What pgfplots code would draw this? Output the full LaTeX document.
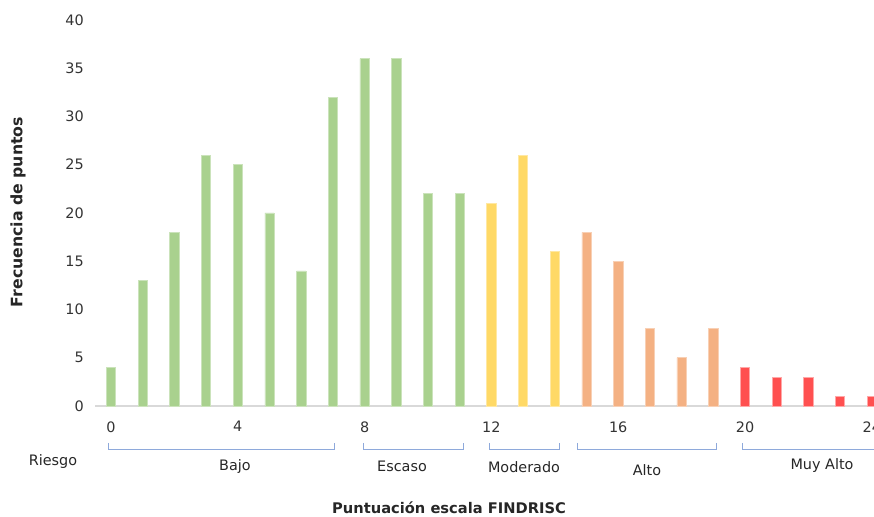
\documentclass[border=0pt]{standalone}
\usepackage{pgfplots}
\pgfplotsset{compat=1.18}
\usepackage{pgfplotstable}
\usepackage{fontspec}
\setmainfont{DejaVu Sans}

\definecolor{bajo}{HTML}{A9D18E}
\definecolor{moder}{HTML}{FFD966}
\definecolor{alto}{HTML}{F4B183}
\definecolor{muyalto}{HTML}{FF5050}
\definecolor{brace}{HTML}{8EA9DB}

\pgfplotstableread{
x y
0 4
1 13
2 18
3 26
4 25
5 20
6 14
7 32
8 36
9 36
10 22
11 22
}\tbajo
\pgfplotstableread{
x y
12 21
13 26
14 16
}\tmoder
\pgfplotstableread{
x y
15 18
16 15
17 8
18 5
19 8
}\talto
\pgfplotstableread{
x y
20 4
21 3
22 3
23 1
24 1
}\tmuy

\begin{document}
\begin{tikzpicture}[font=\fontsize{10.8}{13}\selectfont]
\useasboundingbox (-83.25pt,-83.25pt) rectangle (572.25pt,304.5pt);
\begin{axis}[
  at={(0,0)}, anchor=origin,
  x=23.775pt, y=7.2375pt,
  xmin=-0.5, xmax=24.5, ymin=0, ymax=40,
  axis x line*=bottom, axis y line*=left,
  axis line style={draw=none},
  xtick={0,4,...,24}, ytick={0,5,...,40},
  major tick length=0pt,
  xticklabel style={yshift=-8pt, text=black!80},
  yticklabel style={xshift=-5pt, text=black!80},
  /pgf/number format/assume math mode=true,
  ybar, bar width=7pt,
  clip=false,
]
\draw[black!15, line width=1.5pt] (axis cs:-0.5,0) -- (axis cs:24.5,0);
\addplot[bar shift=0pt, fill=bajo, draw=bajo!60!white, line width=0.5pt] table {\tbajo};
\addplot[bar shift=0pt, fill=moder, draw=moder!60!white, line width=0.5pt] table {\tmoder};
\addplot[bar shift=0pt, fill=alto, draw=alto!60!white, line width=0.5pt] table {\talto};
\addplot[bar shift=0pt, fill=muyalto, draw=muyalto!50!white, line width=0.5pt] table {\tmuy};
\end{axis}
% risk-group brackets under the score axis
\begin{scope}[brace, line width=0.75pt]
\draw (-2.25pt,-27.75pt) -- (-2.25pt,-33pt) -- (167.25pt,-33pt) -- (167.25pt,-27.75pt);
\draw (189pt,-27.75pt) -- (189pt,-33pt) -- (264pt,-33pt) -- (264pt,-27.75pt);
\draw (283.5pt,-27.75pt) -- (283.5pt,-33pt) -- (336pt,-33pt) -- (336pt,-27.75pt);
\draw (349.5pt,-27.75pt) -- (349.5pt,-33pt) -- (453.75pt,-33pt) -- (453.75pt,-27.75pt);
\draw (473.25pt,-27.75pt) -- (473.25pt,-33pt) -- (600pt,-33pt);
\end{scope}
\begin{scope}[text=black!85]
\node at (-43.5pt,-42pt) {Riesgo};
\node at (93pt,-45.75pt) {Bajo};
\node at (218.25pt,-45pt) {Escaso};
\node at (309.75pt,-45.75pt) {Moderado};
\node at (402pt,-48pt) {Alto};
\node at (533.25pt,-45pt) {Muy Alto};
\node[font=\fontsize{11}{13}\selectfont\bfseries] at (253.5pt,-76.5pt) {Puntuación escala FINDRISC};
\node[font=\fontsize{11.8}{13}\selectfont\bfseries, rotate=90] at (-69.75pt,145.5pt) {Frecuencia de puntos};
\end{scope}
\end{tikzpicture}
\end{document}
